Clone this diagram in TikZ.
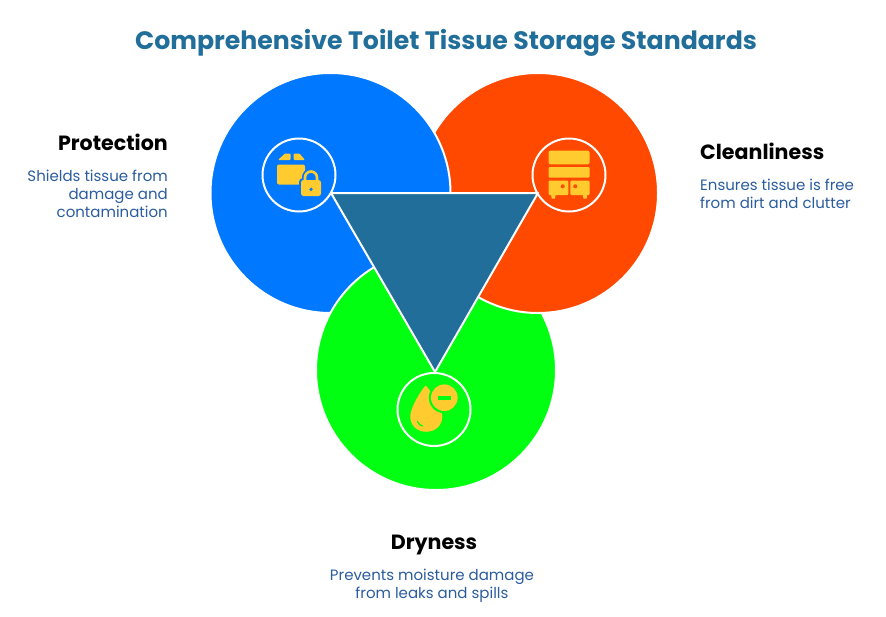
\documentclass[tikz,border=0pt]{standalone}
\usepackage{fontspec}
\setmainfont{Poppins}
\usepackage{tikz}
\usetikzlibrary{positioning}
\definecolor{tissueblue}{HTML}{0078FF}
\definecolor{tissuered}{HTML}{FF4800}
\definecolor{tissuegreen}{HTML}{00FF10}
\definecolor{tissuesteel}{HTML}{206E99}
\definecolor{tissuetext}{HTML}{2A5C9E}
\definecolor{tissueicon}{HTML}{FFCB2F}
\tikzstyle{lobe}=[circle,draw=white,line width=2pt,minimum size=240pt,inner sep=0pt,outer sep=0pt]
\tikzstyle{ring}=[circle,draw=white,line width=2pt,minimum size=73pt,inner sep=0pt,outer sep=0pt]
\tikzstyle{head}=[inner sep=0pt,font=\fontsize{20.6}{24}\selectfont\bfseries]
\tikzstyle{note}=[inner sep=0pt,text=tissuetext,font=\fontsize{15}{18}\selectfont]

\begin{document}
\begin{tikzpicture}[x=1pt,y=-1pt]
  \useasboundingbox (0,0) rectangle (886,616);

  \node [inner sep=0pt,text=tissuesteel,font=\fontsize{25.2}{30}\selectfont\bfseries] (title) at (446,43) {Comprehensive Toilet Tissue Storage Standards};

  % overlapping circles
  \node [lobe,fill=tissuegreen] (dry)   at (436,370) {};
  \node [lobe,fill=tissuered]   (clean) at (538,193) {};
  \node [lobe,fill=tissueblue]  (prot)  at (330.5,193) {};
  \begin{scope}
    \clip (200,240) rectangle (436,320);
    \node [lobe,fill=tissuegreen] (dryover) at (dry) {};
  \end{scope}

  \coordinate (tl) at (331,193);
  \coordinate (tr) at (538,193);
  \coordinate (tb) at (435,372);
  \draw [white,line width=2pt,line join=round,fill=tissuesteel] (tl) -- (tr) -- (tb) -- cycle;

  \node [ring] (protring)  at (299,175) {};
  \node [ring] (cleanring) at (569,175) {};
  \node [ring] (dryring)   at (434,409.5) {};

  % box and lock
  \fill [tissueicon,rounded corners=2pt] (277,164.5) rectangle (305,184.5);
  \fill [tissueicon,rounded corners=1pt] (278,160) -- (285,153.5) -- (290.5,153.5) -- (290.5,160) -- cycle;
  \fill [tissueicon,rounded corners=1pt] (293.5,153.5) -- (299.5,153.5) -- (305,160) -- (293.5,160) -- cycle;
  \fill [tissueblue,rounded corners=4pt] (299,178) rectangle (323,198);
  \draw [tissueblue,line width=6pt] (305,182) -- (305,177.5) arc[start angle=180,end angle=360,radius=6] -- (317,182);
  \draw [tissueicon,line width=2.6pt] (305,182) -- (305,177.5) arc[start angle=180,end angle=360,radius=6] -- (317,182);
  \fill [tissueicon,rounded corners=2.5pt] (301,180) rectangle (321,196);
  \fill [tissueblue] (311,189.3) circle (1.8);

  % cabinet
  \fill [tissueicon,rounded corners=2pt] (548.5,150.7) rectangle (589.5,164.3);
  \fill [tissueicon,rounded corners=1pt] (548.5,167) rectangle (589.5,177.7);
  \fill [tissueicon,rounded corners=1pt] (548.5,180.7) rectangle (568.3,195);
  \fill [tissueicon,rounded corners=1pt] (570.3,180.7) rectangle (589.5,195);
  \fill [tissueicon] (551,194) -- (555.7,194) -- (555,198.5) -- (551.7,198.5) -- cycle;
  \fill [tissueicon] (582.7,194) -- (587.3,194) -- (586.6,198.5) -- (583.4,198.5) -- cycle;
  \fill [tissuered] (562.7,186.3) circle (2);
  \fill [tissuered] (575.3,186.3) circle (2);

  % drop
  \fill [tissueicon,draw=tissueicon,line width=1.5pt,line join=round] (425.7,386.5) .. controls (421,392) and (411,408) .. (411,416.5) .. controls (411,425) and (417.5,431) .. (426,431) .. controls (435,431) and (441.5,425) .. (441.5,416.5) .. controls (441.5,408) and (430.5,392) .. (425.7,386.5) -- cycle;
  \fill [tissuegreen] (444.3,397.7) circle (15.5);
  \fill [tissueicon] (444.3,397.7) circle (13.3);
  \fill [tissuegreen] (438.3,396) rectangle (450.7,399.7);
  \draw [tissuegreen,line width=1.3pt,line cap=round] (417.5,421.5) .. controls (418.5,424) and (420,425.5) .. (422.5,426);

  % labels
  \node [head,anchor=east] (protlabel) at (168,142) {Protection};
  \node [note,align=right,below left=19pt and 0pt of protlabel.south east] (protnote) {Shields tissue from\\damage and\\contamination};
  \node [head,anchor=west] (cleanlabel) at (700,151) {Cleanliness};
  \node [note,align=left,below right=19pt and 0pt of cleanlabel.south west] (cleannote) {Ensures tissue is free\\from dirt and clutter};
  \node [head] (drylabel) at (434,545) {Dryness};
  \node [note,align=center,below=14pt of drylabel.south,xshift=-2pt] (drynote) {Prevents moisture damage\\from leaks and spills};
\end{tikzpicture}
\end{document}
